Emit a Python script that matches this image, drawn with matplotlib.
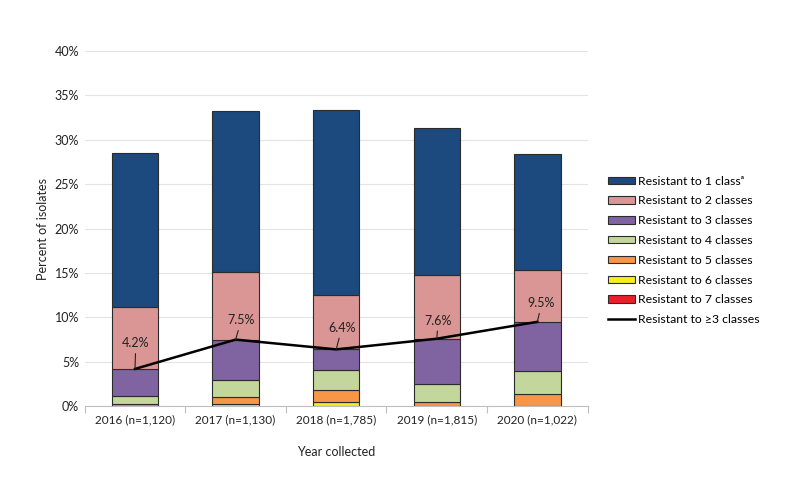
import numpy as np
import matplotlib
matplotlib.use('Agg')
import matplotlib.pyplot as plt
from matplotlib.patches import Patch
from matplotlib.lines import Line2D
from matplotlib.ticker import FuncFormatter, FixedLocator

plt.rcParams['font.family'] = ['Lato', 'DejaVu Sans']

# Data (percent of isolates)
years = ['2016 (n=1,120)', '2017 (n=1,130)', '2018 (n=1,785)', '2019 (n=1,815)', '2020 (n=1,022)']
res_7 = [0.0, 0.0, 0.0, 0.0, 0.0]
res_6 = [0.0, 0.3, 0.5, 0.0, 0.0]
res_5 = [0.3, 0.75, 1.3, 0.5, 1.4]
res_4 = [0.9, 1.85, 2.3, 2.0, 2.6]
res_3 = [3.0, 4.6, 2.3, 5.1, 5.5]
res_2 = [7.0, 7.6, 6.1, 7.2, 5.8]
res_1 = [17.3, 18.1, 20.9, 16.5, 13.1]
res_3plus = [4.2, 7.5, 6.4, 7.6, 9.5]
line_labels = ['4.2%', '7.5%', '6.4%', '7.6%', '9.5%']

series = [res_7, res_6, res_5, res_4, res_3, res_2, res_1]
names = ['Resistant to 7 classes', 'Resistant to 6 classes', 'Resistant to 5 classes',
         'Resistant to 4 classes', 'Resistant to 3 classes', 'Resistant to 2 classes',
         'Resistant to 1 class\u1d43']
colors = ['#e8202a', '#f5ee1c', '#f79646', '#c3d69b', '#8064a2', '#d99694', '#1c4a7e']

fig = plt.figure(figsize=(7.92, 5.04), dpi=100)
ax = fig.add_axes([0.107, 0.194, 0.635, 0.705])

x = np.arange(len(years))
bottom = np.zeros(len(years))
for vals, col in zip(series, colors):
    vals = np.array(vals)
    ax.bar(x, vals, width=0.46, bottom=bottom, color=col, edgecolor='#2b2b2b',
           linewidth=0.8, zorder=2)
    bottom += vals

ax.plot(x, res_3plus, color='black', linewidth=1.8, zorder=3)

# labels with short leader lines
offsets = [(0.5, 14), (4, 9.5), (4, 11), (1, 8.5), (3, 9)]
for xi, yv, lab, off in zip(x, res_3plus, line_labels, offsets):
    ax.annotate(lab, xy=(xi, yv), xytext=off, textcoords='offset points',
                ha='center', va='bottom', fontsize=9, color='#222222', zorder=4,
                arrowprops=dict(arrowstyle='-', color='#222222', lw=0.8,
                                shrinkA=1, shrinkB=0))

ax.set_xlim(-0.5, len(years) - 0.5)
ax.set_ylim(0, 40)
ax.set_yticks(np.arange(0, 41, 5))
ax.yaxis.set_major_formatter(FuncFormatter(lambda v, p: f'{v:.0f}%'))
ax.set_xticks(x)
ax.set_xticklabels(years)
ax.xaxis.set_minor_locator(FixedLocator(np.arange(-0.5, len(years), 1.0)))
ax.tick_params(axis='x', which='major', length=0, pad=6, labelsize=8.5, colors='#222222')
ax.tick_params(axis='x', which='minor', length=5, color='#bfbfbf', width=0.8)
ax.tick_params(axis='y', length=0, pad=4, labelsize=9, colors='#222222')
ax.grid(axis='y', color='#e3e3e3', linewidth=0.8, zorder=0)
ax.set_axisbelow(True)
for s in ['top', 'right', 'left']:
    ax.spines[s].set_visible(False)
ax.spines['bottom'].set_color('#bfbfbf')
ax.spines['bottom'].set_linewidth(0.8)

ax.set_ylabel('Percent of isolates', fontsize=9, color='#222222', labelpad=4)
ax.set_xlabel('Year collected', fontsize=9, color='#222222', labelpad=15)

handles = [Patch(facecolor=c, edgecolor='#2b2b2b', linewidth=0.8) for c in colors[::-1]]
labels = names[::-1]
handles.append(Line2D([0], [0], color='black', linewidth=1.8))
labels.append('Resistant to \u22653 classes')
fig.legend(handles, labels, loc='center left', bbox_to_anchor=(0.762, 0.503),
           frameon=False, fontsize=8.8, handlelength=2.2, handleheight=0.55,
           handletextpad=0.25, labelspacing=0.72, borderaxespad=0)

fig.savefig('out.png', dpi=100)
